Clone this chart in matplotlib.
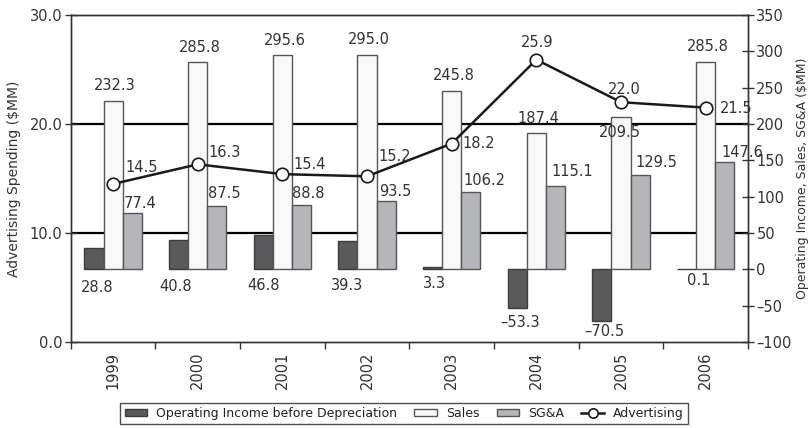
import matplotlib
matplotlib.use("Agg")
import matplotlib.pyplot as plt
import numpy as np

# ---- data ($MM) ----
years = ["1999", "2000", "2001", "2002", "2003", "2004", "2005", "2006"]
operating_income = [28.8, 40.8, 46.8, 39.3, 3.3, -53.3, -70.5, 0.1]
sales = [232.3, 285.8, 295.6, 295.0, 245.8, 187.4, 209.5, 285.8]
sga = [77.4, 87.5, 88.8, 93.5, 106.2, 115.1, 129.5, 147.6]
advertising = [14.5, 16.3, 15.4, 15.2, 18.2, 25.9, 22.0, 21.5]

# ---- label placement (pixel offsets from each mark) ----
oi_off = [(3, -18), (-3, -17), (0, -16), (-1, -16), (2, -14), (3, -14), (2, -11), (12, -11)]
sales_off = [(2, 15), (2, 14), (2, 14), (2, 15), (2, 15), (2, 15), (-1, -15), (2, 15)]
sga_off = [(8, 10), (8, 12), (7, 11), (9, 10), (14, 12), (17, 14), (16, 13), (18, 10)]
adv_off = [(29, 16), (27, 12), (27, 10), (28, 20), (27, 0), (1, 17), (3, 13), (31, -1)]

C_OI = "#5a5a5c"
C_SALES = "#f8f8f8"
C_SGA = "#b5b6b9"
C_EDGE = "#555555"
C_AX = "#333333"

plt.rcParams["font.family"] = ["DejaVu Sans"]
fig = plt.figure(figsize=(8.09, 4.28), dpi=100)
ax = fig.add_axes([0.0874, 0.2009, 0.8372, 0.7641])
ax2 = ax.twinx()
ax.set_zorder(2)
ax.patch.set_visible(False)
ax2.set_zorder(1)

L_LO, L_HI = 0, 30
R_LO, R_HI = -100, 350
ax.set_ylim(L_LO, L_HI)
ax2.set_ylim(R_LO, R_HI)
ax.set_xlim(-0.5, len(years) - 0.5)
ax2.set_xlim(-0.5, len(years) - 0.5)

x = np.arange(len(years))
w = 0.225

# horizontal rules at the advertising gridlines, drawn behind the bars
for v in [10, 20]:
    ax2.axhline(R_LO + (v - L_LO) * (R_HI - R_LO) / (L_HI - L_LO),
                color="black", lw=1.6, zorder=0)

b_oi = ax2.bar(x - w, operating_income, w, color=C_OI, edgecolor="#3c3c3c", lw=1.0, zorder=2)
b_sales = ax2.bar(x, sales, w, color=C_SALES, edgecolor=C_EDGE, lw=1.0, zorder=2)
b_sga = ax2.bar(x + w, sga, w, color=C_SGA, edgecolor=C_EDGE, lw=1.0, zorder=2)

(line,) = ax.plot(x, advertising, color="#1a1a1a", lw=1.8, marker="o", ms=9,
                  mfc="white", mec="#1a1a1a", mew=1.2, zorder=5)

fs = 10.5
tc = "#333333"
for i, v in enumerate(operating_income):
    anchor = 0 if v >= 0 else v
    ax2.annotate(f"{v:.1f}".replace("-", "\u2013"), (x[i] - w, anchor),
                 xytext=oi_off[i], textcoords="offset pixels",
                 ha="center", va="center", fontsize=fs, color=tc, zorder=6)
for i, v in enumerate(sales):
    ax2.annotate(f"{v:.1f}", (x[i], v), xytext=sales_off[i], textcoords="offset pixels",
                 ha="center", va="center", fontsize=fs, color=tc, zorder=6)
for i, v in enumerate(sga):
    ax2.annotate(f"{v:.1f}", (x[i] + w, v), xytext=sga_off[i], textcoords="offset pixels",
                 ha="center", va="center", fontsize=fs, color=tc, zorder=6)
for i, v in enumerate(advertising):
    ax.annotate(f"{v:.1f}", (x[i], v), xytext=adv_off[i], textcoords="offset pixels",
                ha="center", va="center", fontsize=fs, color=tc, zorder=6)

# axes styling
ax.set_yticks([0, 10, 20, 30])
ax.set_yticklabels([f"{t:.1f}" for t in [0, 10, 20, 30]])
ax2.set_yticks(np.arange(-100, 351, 50))
ax2.set_yticklabels([str(t).replace("-", "\u2013") for t in range(-100, 351, 50)])
ax.tick_params(axis="y", direction="inout", length=8, width=1, colors=C_AX,
               labelsize=fs, labelcolor=tc, pad=2)
ax2.tick_params(axis="y", direction="inout", length=8, width=1, colors=C_AX,
                labelsize=fs, labelcolor=tc, pad=2)

ax.set_xticks(x)
ax.set_xticklabels(years, rotation=90, fontsize=fs, color=tc)
ax.tick_params(axis="x", which="major", length=0, pad=7)
ax.set_xticks(np.arange(-0.5, len(years), 1), minor=True)
ax.tick_params(axis="x", which="minor", direction="out", length=5, width=1, colors=C_AX)
ax2.tick_params(axis="x", which="both", length=0, labelbottom=False)

for a in (ax, ax2):
    for s in a.spines.values():
        s.set_color(C_AX)
        s.set_linewidth(1.0)

ax.set_ylabel("Advertising Spending ($MM)", fontsize=10, color=tc, labelpad=6)
ax2.set_ylabel("Operating Income, Sales, SG&A ($MM)", fontsize=9, color=tc, labelpad=3)

handles = [b_oi, b_sales, b_sga, line]
labels = ["Operating Income before Depreciation", "Sales", "SG&A", "Advertising"]
leg = fig.legend(handles, labels, loc="center", bbox_to_anchor=(0.4994, 0.034),
                 ncol=4, frameon=True, fancybox=False, edgecolor="#222222",
                 prop={"size": 9},
                 handlelength=1.8, handleheight=0.55, handletextpad=0.7,
                 columnspacing=1.4, borderpad=0.35, markerscale=0.75)
leg.get_frame().set_linewidth(1.0)
for t in leg.get_texts():
    t.set_color("#222222")

fig.savefig("out.png", dpi=100)
